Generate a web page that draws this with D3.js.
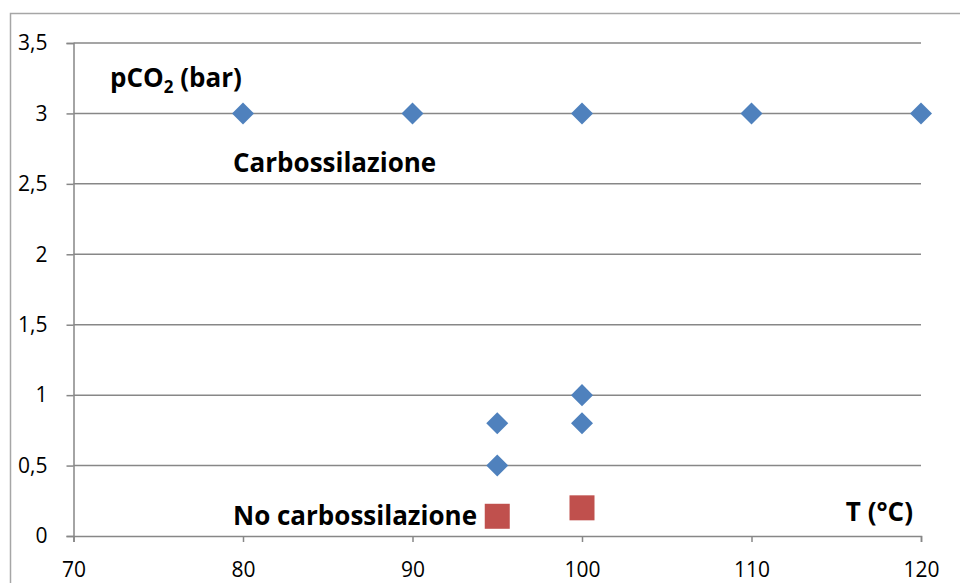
<!DOCTYPE html>
<html>
<head>
<meta charset="utf-8">
<script src="https://cdn.jsdelivr.net/npm/d3@7"></script>
<style>
  body { margin: 0; background: #fff; }
  text { font-family: "Open Sans", sans-serif; }
  .axis text { font-size: 21px; fill: #000; }
</style>
</head>
<body>
<div id="chart"></div>
<script>
// data
const xTicks = [70, 80, 90, 100, 110, 120];
const yTicks = [0, 0.5, 1, 1.5, 2, 2.5, 3, 3.5];
const carbT = [80, 90, 100, 110, 120, 95, 95, 100, 100];
const carbP = [3, 3, 3, 3, 3, 0.8, 0.5, 1, 0.8];
const noCarbT = [95, 100];
const noCarbP = [0.14, 0.2];

const width = 960, height = 583;
const margin = {top: 43, right: 39, bottom: 47, left: 73.5};
const innerW = width - margin.left - margin.right;
const innerH = height - margin.top - margin.bottom;

const svg = d3.select("#chart").append("svg")
  .attr("width", width)
  .attr("height", height);

// outer chart frame (cut off at right and bottom)
svg.append("rect")
  .attr("x", 10.5).attr("y", 13.5)
  .attr("width", 980).attr("height", 620)
  .attr("fill", "none")
  .attr("stroke", "#a6a6a6")
  .attr("stroke-width", 1.5);

const g = svg.append("g")
  .attr("transform", "translate(" + margin.left + "," + margin.top + ")");

const x = d3.scaleLinear().domain([70, 120]).range([0, innerW]);
const y = d3.scaleLinear().domain([0, 3.5]).range([innerH, 0]);
const fmt = d => String(d).replace(".", ",");

// gridlines
g.append("g")
  .selectAll("line")
  .data(yTicks.filter(d => d > 0))
  .enter().append("line")
  .attr("x1", 0).attr("x2", innerW)
  .attr("y1", d => y(d)).attr("y2", d => y(d))
  .attr("stroke", "#878787")
  .attr("stroke-width", 1.5);

// axes
const xAxis = g.append("g")
  .attr("class", "axis")
  .attr("transform", "translate(0," + innerH + ")")
  .call(d3.axisBottom(x).tickValues(xTicks).tickSize(6).tickPadding(35).tickFormat(fmt));
const yAxis = g.append("g")
  .attr("class", "axis")
  .call(d3.axisLeft(y).tickValues(yTicks).tickSize(7).tickPadding(19).tickFormat(fmt));

[xAxis, yAxis].forEach(a => {
  a.attr("font-size", 21).attr("font-family", null);
  a.select(".domain").attr("stroke", "#878787").attr("stroke-width", 1.5);
  a.selectAll(".tick line").attr("stroke", "#878787").attr("stroke-width", 1.5);
  a.selectAll(".tick text").attr("fill", "#000").attr("font-size", 21);
});
xAxis.selectAll(".tick text").attr("dy", "0");

// series
const diamond = d3.symbol().type(d3.symbolDiamond2).size(310);
g.append("g")
  .selectAll("path")
  .data(carbT.map((t, i) => ({t: t, p: carbP[i]})))
  .enter().append("path")
  .attr("d", diamond)
  .attr("transform", d => "translate(" + x(d.t) + "," + y(d.p) + ")")
  .attr("fill", "#4f81bd");

g.append("g")
  .selectAll("rect")
  .data(noCarbT.map((t, i) => ({t: t, p: noCarbP[i]})))
  .enter().append("rect")
  .attr("x", d => x(d.t) - 12.5)
  .attr("y", d => y(d.p) - 12.5)
  .attr("width", 25).attr("height", 25)
  .attr("fill", "#c0504d");

// labels
const lab = svg.append("g")
  .style("font-weight", "bold")
  .style("font-size", "26px")
  .attr("fill", "#000");

const p = lab.append("text").attr("x", 110).attr("y", 87);
p.append("tspan").text("pCO");
p.append("tspan").text("2").attr("dy", 6).style("font-size", "17px");
p.append("tspan").text(" (bar)").attr("dy", -6);

lab.append("text").attr("x", 233).attr("y", 172).text("Carbossilazione");
lab.append("text").attr("x", 233).attr("y", 525).text("No carbossilazione");
lab.append("text").attr("x", 913).attr("y", 521).attr("text-anchor", "end").text("T (°C)");
</script>
</body>
</html>
